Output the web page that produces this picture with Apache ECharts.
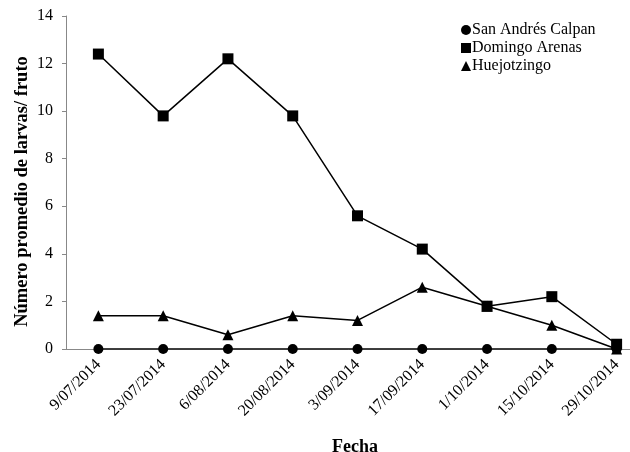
<!DOCTYPE html>
<html>
<head>
<meta charset="utf-8">
<style>
  html, body { margin: 0; padding: 0; background: #fff; }
  #chart { width: 630px; height: 452px; }
</style>
<script src="https://cdn.jsdelivr.net/npm/echarts@6/dist/echarts.min.js"></script>
</head>
<body>
<div id="chart"></div>
<script>
// Sampling dates
const fechas = ['9/07/2014', '23/07/2014', '6/08/2014', '20/08/2014', '3/09/2014',
                '17/09/2014', '1/10/2014', '15/10/2014', '29/10/2014'];

// Mean number of larvae per fruit at each site
const sanAndres = [0, 0, 0, 0, 0, 0, 0, 0, 0];
const domingoArenas = [12.4, 9.8, 12.2, 9.8, 5.6, 4.2, 1.8, 2.2, 0.2];
const huejotzingo = [1.4, 1.4, 0.6, 1.4, 1.2, 2.6, 1.8, 1.0, 0];

const yTicks = { min: 0, max: 14, interval: 2 };

const serif = 'Liberation Serif';

function serie(name, data, symbol, size) {
  return {
    name: name,
    type: 'line',
    data: data,
    symbol: symbol,
    symbolSize: size,
    itemStyle: { color: '#000' },
    lineStyle: { color: '#000', width: 1.5 },
    emphasis: { disabled: true },
    animation: false
  };
}

const chart = echarts.init(document.getElementById('chart'), null, { renderer: 'canvas' });
chart.setOption({
  backgroundColor: '#fff',
  animation: false,
  title: {
    text: 'Fecha',
    left: 350,
    top: 433,
    textAlign: 'center',
    textStyle: { fontFamily: serif, fontSize: 18, fontWeight: 'bold', color: '#000' }
  },
  legend: {
    orient: 'vertical',
    left: 456,
    top: 17,
    itemWidth: 10,
    itemHeight: 10,
    itemGap: 2,
    textStyle: { fontFamily: serif, fontSize: 16, color: '#000', padding: [0, 0, 0, -4] },
    data: [
      { name: 'San Andrés Calpan', icon: 'circle' },
      { name: 'Domingo Arenas', icon: 'rect' },
      { name: 'Huejotzingo', icon: 'triangle' }
    ]
  },
  // plot area runs past the right edge of the canvas, as in the original figure
  grid: { left: 66, top: 16, width: 583, height: 333, containLabel: false, outerBoundsMode: 'none' },
  xAxis: {
    type: 'category',
    data: fechas,
    boundaryGap: true,
    axisLine: { lineStyle: { color: '#888', width: 1 } },
    axisTick: { show: false },
    axisLabel: { rotate: 45, margin: 13, fontFamily: serif, fontSize: 16, color: '#000', interval: 0 },
    splitLine: { show: false }
  },
  yAxis: {
    type: 'value',
    min: yTicks.min,
    max: yTicks.max,
    interval: yTicks.interval,
    name: 'Número promedio de larvas/ fruto',
    nameLocation: 'middle',
    nameGap: 34,
    nameMoveOverlap: false,
    nameTextStyle: { fontFamily: serif, fontSize: 18.5, fontWeight: 'bold', color: '#000', padding: [0, 18, 0, 0] },
    axisLine: { show: true, lineStyle: { color: '#888', width: 1 } },
    axisTick: { show: true, length: 4, lineStyle: { color: '#888' } },
    axisLabel: { fontFamily: serif, fontSize: 16, color: '#000', margin: 13 },
    splitLine: { show: false }
  },
  series: [
    serie('San Andrés Calpan', sanAndres, 'circle', 10),
    serie('Domingo Arenas', domingoArenas, 'rect', 11),
    serie('Huejotzingo', huejotzingo, 'triangle', 11)
  ]
});
</script>
</body>
</html>
